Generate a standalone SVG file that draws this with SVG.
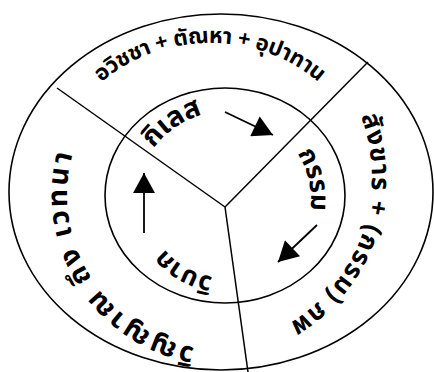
<svg xmlns="http://www.w3.org/2000/svg" width="434" height="372" viewBox="0 0 434 372">
<style>
.ring{fill:none;stroke:#000;stroke-width:1.6}
.div{fill:none;stroke:#000;stroke-width:1.5}
.arr{fill:none;stroke:#000;stroke-width:1.8}
.t{font-family:"Noto Sans Thai","Noto Sans","DejaVu Sans",sans-serif;font-weight:bold;fill:#000}
</style>
<defs>
<marker id="head" markerUnits="userSpaceOnUse" markerWidth="22" markerHeight="22" viewBox="0 0 20 22" refX="20" refY="11" orient="auto">
<path d="M0,0 L20,11 L0,22 Z" fill="#000"/>
</marker>
<path id="pTop" d="M60,170 A150,127 0 0 1 360,170"/>
<path id="pRight" d="M306.3,42.3 A171,171 0 0 1 201,348"/>
<path id="pLeft" d="M255,346.4 A155,155 0 0 1 99.4,100.2"/>
<path id="pKilesa" d="M137,200 A88,88 0 0 1 256.5,117.8"/>
<path id="pKam" d="M264,123.4 A86,86 0 0 1 293.7,251.8"/>
<path id="pWibak" d="M238.5,276.8 A78,78 0 0 1 151.7,226.7"/>
</defs>
<g id="rings">
<ellipse class="ring" cx="221" cy="192" rx="212" ry="178"/>
<ellipse class="ring" cx="225" cy="195.5" rx="120" ry="107.5"/>
</g>
<g id="connectors">
<line class="div" x1="225" y1="207" x2="57" y2="88"/>
<line class="div" x1="225" y1="207" x2="368" y2="62"/>
<line class="div" x1="225" y1="207" x2="248" y2="372"/>
<line class="arr" x1="225" y1="112" x2="273" y2="135" marker-end="url(#head)"/>
<line class="arr" x1="317" y1="225" x2="278" y2="262" marker-end="url(#head)"/>
<line class="arr" x1="144" y1="233" x2="144" y2="173" marker-end="url(#head)"/>
</g>
<g id="outer-top"><text class="t" font-size="22" text-anchor="middle"><textPath href="#pTop" startOffset="50%" textLength="236" lengthAdjust="spacing">อวิชชา + ตัณหา + อุปาทาน</textPath></text></g>
<g id="outer-right"><text class="t" font-size="26" text-anchor="middle"><textPath href="#pRight" startOffset="50%" textLength="238" lengthAdjust="spacing">สังขาร + (กรรม) ภพ</textPath></text></g>
<g id="outer-left"><text class="t" font-size="28" text-anchor="middle"><textPath href="#pLeft" startOffset="50%" textLength="257" lengthAdjust="spacing">วิญญาณ ถึง เวทนา</textPath></text></g>
<g id="kilesa"><text class="t" font-size="28" text-anchor="middle"><textPath href="#pKilesa" startOffset="50%">กิเลส</textPath></text></g>
<g id="kam"><text class="t" font-size="26" text-anchor="middle"><textPath href="#pKam" startOffset="50%">กรรม</textPath></text></g>
<g id="wibak"><text class="t" font-size="26" text-anchor="middle"><textPath href="#pWibak" startOffset="50%">วิบาก</textPath></text></g>
</svg>
